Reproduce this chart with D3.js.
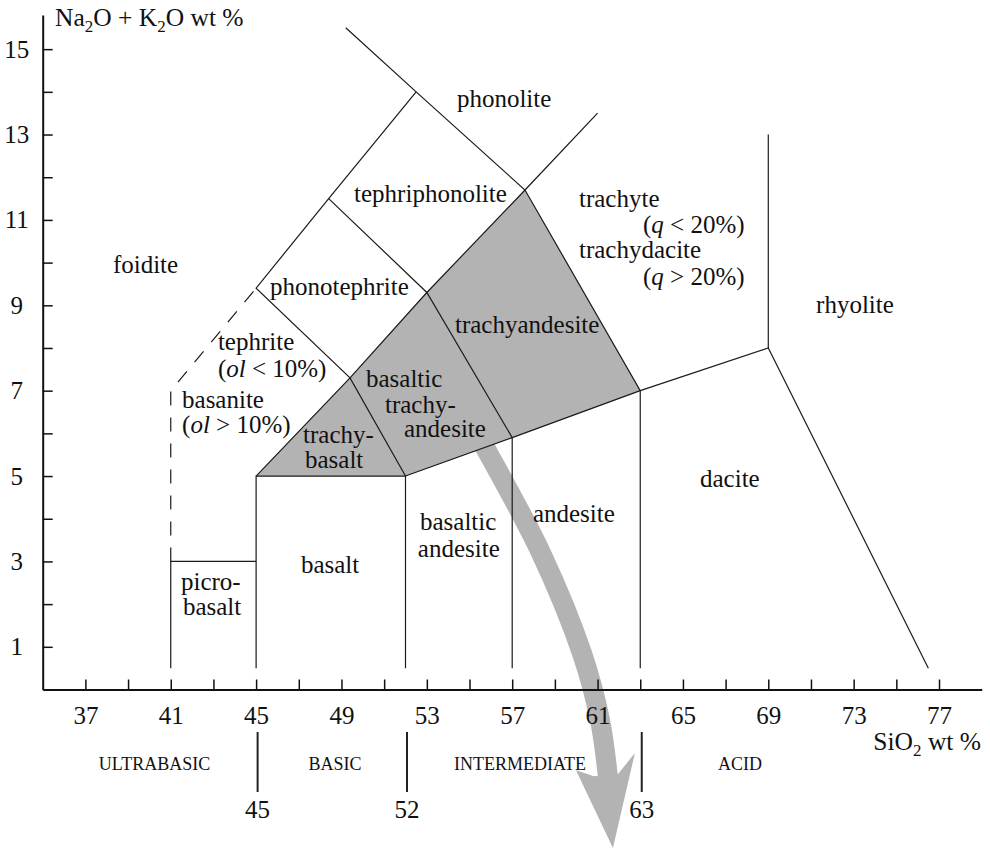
<!DOCTYPE html>
<html>
<head>
<meta charset="utf-8">
<script src="https://cdn.jsdelivr.net/npm/d3@7"></script>
<style>
  body { margin: 0; background: #fff; }
  svg text { font-family: "Liberation Serif", "Times New Roman", serif; fill: #111; }
</style>
</head>
<body>
<div id="chart"></div>
<script>
// axis ticks
const xTicks = d3.range(37, 78, 2);
const xLabels = [37, 41, 45, 49, 53, 57, 61, 65, 69, 73, 77];
const yTicks = d3.range(1, 16);
const yLabels = [1, 3, 5, 7, 9, 11, 13, 15];

// field boundaries, [SiO2, Na2O + K2O]
const solidLines = [
  [[41, 0.5], [41, 3], [45, 3]],
  [[45, 0.5], [45, 5], [52, 5], [52, 0.5]],
  [[52, 5], [57, 5.9], [63, 7], [69, 8], [76.5, 0.5]],
  [[57, 0.5], [57, 5.9], [53, 9.3], [48.4, 11.5]],
  [[63, 0.5], [63, 7], [57.6, 11.7], [52.5, 14], [49.2, 15.5]],
  [[69, 8], [69, 13]],
  [[45, 5], [49.4, 7.3], [53, 9.3], [57.6, 11.7], [61, 13.5]],
  [[52, 5], [49.4, 7.3], [45, 9.4], [48.4, 11.5], [52.5, 14]],
];
const dashedLine = [[41, 3], [41, 7], [45, 9.4]];

// shaded fields
const trachybasalt = [[45, 5], [49.4, 7.3], [52, 5]];
const basalticTrachyandesite = [[52, 5], [49.4, 7.3], [53, 9.3], [57, 5.9]];
const trachyandesite = [[57, 5.9], [53, 9.3], [57.6, 11.7], [63, 7]];

// big grey arrow (same units)
const arrowPath = [[55.26, 6.08], [55.87, 5.54], [58.35, 3.2], [60.27, 0.85], [61.11, -0.71], [61.49, -2.07]];
const arrowHead = [[60.83, -2.03], [59.99, -1.89], [61.72, -3.71], [62.75, -1.49], [61.96, -1.98]];

// field names: text pieces (arrays are italic) and anchor in data units
const fieldLabels = [
  { t: ["phonolite"], at: [54.41, 13.64] },
  { t: ["tephriphonolite"], at: [49.59, 11.42] },
  { t: ["foidite"], at: [38.29, 9.76] },
  { t: ["phonotephrite"], at: [45.65, 9.24] },
  { t: ["tephrite"], at: [43.21, 7.95] },
  { t: ["(", ["ol"], " < 10%)"], at: [43.21, 7.32] },
  { t: ["basanite"], at: [41.53, 6.59] },
  { t: ["(", ["ol"], " > 10%)"], at: [41.53, 6.01] },
  { t: ["trachy-"], at: [47.2, 5.77] },
  { t: ["basalt"], at: [47.29, 5.19] },
  { t: ["basaltic"], at: [50.15, 7.09] },
  { t: ["trachy-"], at: [51.04, 6.48] },
  { t: ["andesite"], at: [51.93, 5.91] },
  { t: ["trachyandesite"], at: [54.32, 8.35] },
  { t: ["trachyte"], at: [60.13, 11.3] },
  { t: ["(", ["q"], " < 20%)"], at: [63.13, 10.69] },
  { t: ["trachydacite"], at: [60.13, 10.11] },
  { t: ["(", ["q"], " > 20%)"], at: [63.13, 9.48] },
  { t: ["rhyolite"], at: [71.24, 8.82] },
  { t: ["dacite"], at: [65.8, 4.74] },
  { t: ["andesite"], at: [57.97, 3.92] },
  { t: ["basaltic"], at: [52.68, 3.74] },
  { t: ["andesite"], at: [52.58, 3.1] },
  { t: ["basalt"], at: [47.1, 2.73] },
  { t: ["picro-"], at: [41.48, 2.33] },
  { t: ["basalt"], at: [41.57, 1.75] },
];

// silica classes under the axis
const classBreaks = [45, 52, 63];
const classNames = ["ULTRABASIC", "BASIC", "INTERMEDIATE", "ACID"];
const classCenters = [40.24, 48.7, 57.37, 67.67];

const width = 990;
const height = 850;
const serif = '"Liberation Serif", "Times New Roman", serif';

const svg = d3
  .select("#chart")
  .append("svg")
  .attr("width", width)
  .attr("height", height)
  .attr("font-family", serif);

const x = d3.scaleLinear().domain([35, 79]).range([42.7, 981.7]);
const y = d3.scaleLinear().domain([0, 15.8]).range([689.5, 15]);

const line = d3.line().x((d) => x(d[0])).y((d) => y(d[1]));

// shaded fields
svg
  .append("g")
  .selectAll("path")
  .data([trachybasalt, basalticTrachyandesite, trachyandesite])
  .join("path")
  .attr("d", (d) => line(d) + "Z")
  .attr("fill", "#b3b3b3");

// arrow under everything else
svg
  .append("path")
  .attr("d", d3.line().x((d) => x(d[0])).y((d) => y(d[1])).curve(d3.curveCatmullRom)(arrowPath))
  .attr("fill", "none")
  .attr("stroke", "#b3b3b3")
  .attr("stroke-width", 20);

svg
  .append("path")
  .attr("d", line(arrowHead) + "Z")
  .attr("fill", "#b3b3b3");

// boundaries
svg
  .append("g")
  .selectAll("path")
  .data(solidLines)
  .join("path")
  .attr("d", line)
  .attr("fill", "none")
  .attr("stroke", "#1a1a1a")
  .attr("stroke-width", 1.2);

svg
  .append("path")
  .attr("d", line(dashedLine))
  .attr("fill", "none")
  .attr("stroke", "#1a1a1a")
  .attr("stroke-width", 1.2)
  .attr("stroke-dasharray", "14,12");

// axes
const xAxis = d3
  .axisBottom(x)
  .tickValues(xTicks)
  .tickSizeInner(-10)
  .tickSizeOuter(0)
  .tickPadding(17)
  .tickFormat((d) => (xLabels.includes(d) ? d : ""));

const gx = svg
  .append("g")
  .attr("transform", `translate(0,${y(0)})`)
  .call(xAxis);

const yAxis = d3
  .axisLeft(y)
  .tickValues(yTicks)
  .tickSizeInner(-10)
  .tickSizeOuter(0)
  .tickPadding(26)
  .tickFormat((d) => (yLabels.includes(d) ? d : ""));

const gy = svg
  .append("g")
  .attr("transform", `translate(${x(35)},0)`)
  .call(yAxis);

gy.selectAll(".tick text").attr("text-anchor", "middle");

[gx, gy].forEach((g) => {
  g.attr("font-family", serif).attr("font-size", 25);
  g.select(".domain").attr("stroke", "#111").attr("stroke-width", 2);
  g.selectAll(".tick line").attr("stroke", "#111").attr("stroke-width", 1.5);
  g.selectAll(".tick text").attr("fill", "#111");
});

// axis titles
const yTitle = svg.append("text").attr("x", 55).attr("y", 26).style("font-size", "25.5px");
yTitle.append("tspan").text("Na");
yTitle.append("tspan").attr("dy", 6).style("font-size", "17px").text("2");
yTitle.append("tspan").attr("dy", -6).text("O + K");
yTitle.append("tspan").attr("dy", 6).style("font-size", "17px").text("2");
yTitle.append("tspan").attr("dy", -6).text("O wt %");

const xTitle = svg
  .append("text")
  .attr("x", 981)
  .attr("y", 750)
  .attr("text-anchor", "end")
  .style("font-size", "25.5px");
xTitle.append("tspan").text("SiO");
xTitle.append("tspan").attr("dy", 6).style("font-size", "17px").text("2");
xTitle.append("tspan").attr("dy", -6).text(" wt %");

// field labels
const labels = svg
  .append("g")
  .selectAll("text")
  .data(fieldLabels)
  .join("text")
  .attr("x", (d) => x(d.at[0]))
  .attr("y", (d) => y(d.at[1]))
  .style("font-size", "25px");

labels.each(function (d) {
  const el = d3.select(this);
  d.t.forEach((part) => {
    if (Array.isArray(part)) {
      el.append("tspan").style("font-style", "italic").text(part[0]);
    } else {
      el.append("tspan").text(part);
    }
  });
});

// silica classes
svg
  .append("g")
  .selectAll("line")
  .data(classBreaks)
  .join("line")
  .attr("x1", (d) => x(d) + 1.5)
  .attr("x2", (d) => x(d) + 1.5)
  .attr("y1", 732)
  .attr("y2", 792)
  .attr("stroke", "#222")
  .attr("stroke-width", 2);

svg
  .append("g")
  .selectAll("text")
  .data(classBreaks)
  .join("text")
  .attr("x", (d) => x(d) + 1.5)
  .attr("y", 818)
  .attr("text-anchor", "middle")
  .style("font-size", "25px")
  .text((d) => d);

svg
  .append("g")
  .selectAll("text")
  .data(classNames)
  .join("text")
  .attr("x", (d, i) => x(classCenters[i]))
  .attr("y", 770)
  .attr("text-anchor", "middle")
  .style("font-size", "18px")
  .text((d) => d);
</script>
</body>
</html>
